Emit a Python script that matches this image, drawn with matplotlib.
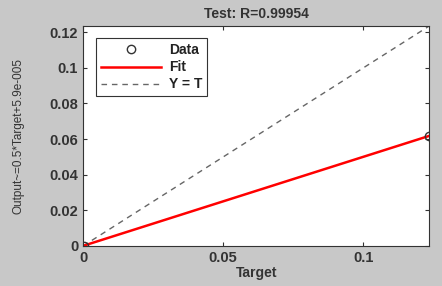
import numpy as np
import matplotlib.pyplot as plt

# test set: targets vs network outputs
target = [0.0002, 0.1235]
output = [0.0002, 0.0618]
fit_slope = 0.5
fit_icpt = 5.9e-5
lim = [0, 0.1235]
r_value = 0.99954

plt.rcParams['font.family'] = ['Liberation Sans', 'DejaVu Sans']
plt.rcParams['font.weight'] = 'bold'

fig = plt.figure(figsize=(4.42, 2.86), dpi=100, facecolor='#c8c8c8')
ax = fig.add_axes([0.188, 0.14, 0.783, 0.769])

t = np.array(lim)
ax.plot(t, fit_slope * t + fit_icpt, color='red', lw=1.8, label='Fit', zorder=2)
ax.plot(t, t, linestyle=(0, (4, 3.5)), color='#666666', lw=1.0, label='Y = T', zorder=1)
ax.plot(target, output, 'o', mfc='none', mec='#333333', ms=6, mew=1.0, label='Data', zorder=3)

ax.set_xlim(lim)
ax.set_ylim(lim)
ax.set_xticks([0, 0.05, 0.1])
ax.set_xticklabels(['0', '0.05', '0.1'])
ax.set_yticks([0, 0.02, 0.04, 0.06, 0.08, 0.1, 0.12])
ax.set_yticklabels(['0', '0.02', '0.04', '0.06', '0.08', '0.1', '0.12'])
ax.tick_params(direction='in', top=True, right=True, length=3, labelsize=10.5,
               labelcolor='#333333', color='#333333')
for s in ax.spines.values():
    s.set_color('#333333')

ax.set_title('Test: R=%.5f' % r_value, fontsize=10, color='#333333', pad=6,
             fontweight='bold')
ax.set_xlabel('Target', fontsize=10, color='#333333', labelpad=1, fontweight='bold')
ax.set_ylabel('Output~=0.5*Target+5.9e-005', fontsize=8.5, color='#333333', labelpad=18,
              fontweight='normal')

h, l = ax.get_legend_handles_labels()
order = [2, 0, 1]
leg = ax.legend([h[i] for i in order], [l[i] for i in order], loc='upper left',
                fontsize=10, fancybox=False, edgecolor='#333333', framealpha=1,
                handlelength=4.3, borderpad=0.35, labelspacing=0.22,
                handletextpad=0.6, bbox_to_anchor=(0.018, 0.975))
leg.get_frame().set_linewidth(0.8)
for txt in leg.get_texts():
    txt.set_color('#222222')

fig.savefig('out.png', dpi=100, facecolor=fig.get_facecolor())
